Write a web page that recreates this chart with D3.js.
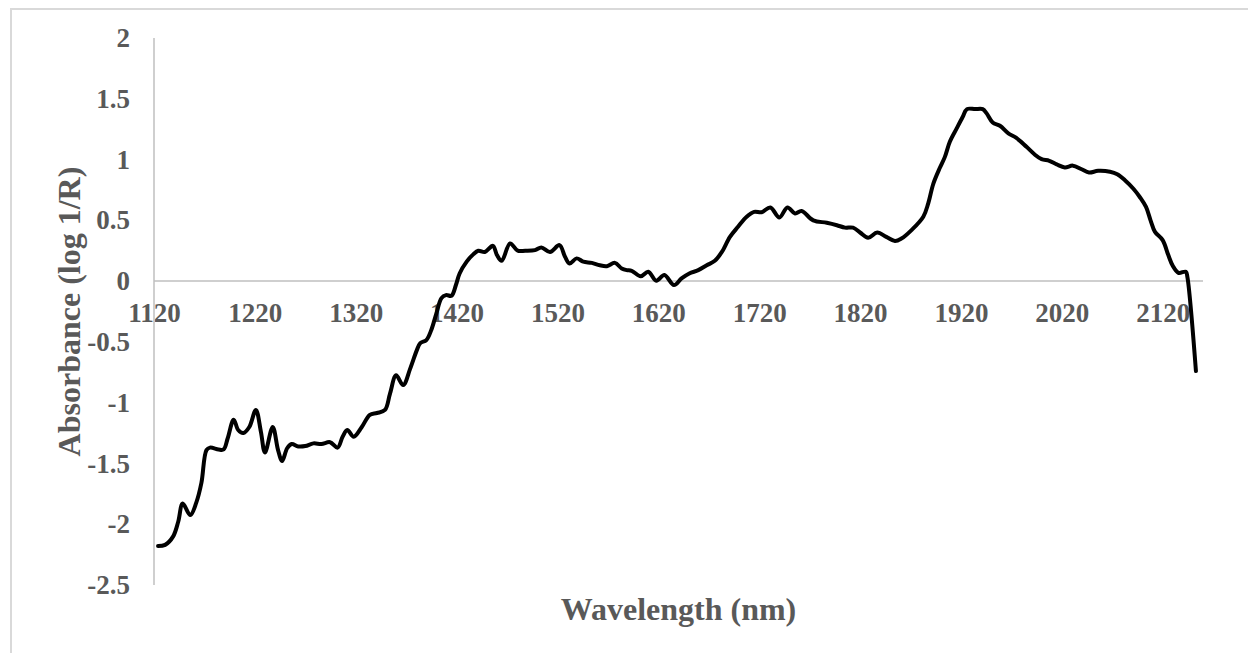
<!DOCTYPE html>
<html>
<head>
<meta charset="utf-8">
<script src="https://cdn.jsdelivr.net/npm/d3@7"></script>
<style>
  html, body { margin: 0; padding: 0; background: #ffffff; }
  svg { display: block; }
</style>
</head>
<body>
<svg id="chart" width="1248" height="653"></svg>
<script>
// ---- data ----
const wavelength = [1124,1131,1139,1144,1148.5,1156,1162,1167,1172,1175.5,1184,1189,1193,1199,1203.5,1208.5,1214.5,1221,1226,1230,1237.7,1243,1247,1252,1256.5,1263,1270,1278,1286,1294.5,1302,1307,1311.6,1318,1326,1334,1341,1349,1354,1360,1367,1374,1380.5,1384,1390,1395,1400,1405,1409.5,1415,1419.4,1423,1430,1436.5,1441.5,1448,1456,1460,1464.7,1473,1480.6,1488,1497.7,1504,1512.6,1522,1527.5,1532,1539,1545.6,1554,1562,1569,1577,1583.7,1588.6,1593.6,1602.5,1610,1618,1626,1635.5,1643,1650.7,1659.6,1668,1676,1683,1691,1699,1707.6,1715,1722.5,1731,1740,1748,1755.5,1762,1773.6,1787,1797,1805,1813,1820,1828,1837,1846,1854.6,1861,1871,1882.7,1887.6,1892.6,1899,1904,1909,1915.8,1921.7,1926,1934,1941.6,1945.5,1951.5,1958.7,1967,1974.6,1985,1993.4,2000,2007.6,2015,2023,2031,2039.7,2047,2056,2067.8,2075,2082.6,2091,2097.5,2103.5,2108,2112.4,2120,2125.6,2130,2135.6,2143,2144.5,2153];
const absorbance = [-2.18,-2.17,-2.10,-1.98,-1.83,-1.925,-1.82,-1.66,-1.39,-1.37,-1.385,-1.385,-1.295,-1.14,-1.225,-1.25,-1.20,-1.06,-1.24,-1.41,-1.20,-1.39,-1.48,-1.375,-1.34,-1.36,-1.357,-1.335,-1.34,-1.325,-1.37,-1.28,-1.225,-1.28,-1.20,-1.10,-1.085,-1.06,-0.925,-0.775,-0.855,-0.72,-0.57,-0.51,-0.485,-0.40,-0.265,-0.14,-0.115,-0.12,-0.03,0.063,0.16,0.22,0.25,0.24,0.29,0.215,0.167,0.31,0.25,0.25,0.255,0.277,0.24,0.296,0.20,0.145,0.187,0.16,0.15,0.13,0.123,0.15,0.104,0.09,0.085,0.04,0.077,0.003,0.05,-0.033,0.022,0.063,0.09,0.13,0.167,0.24,0.364,0.447,0.53,0.57,0.567,0.606,0.524,0.606,0.557,0.576,0.50,0.48,0.46,0.44,0.44,0.40,0.357,0.40,0.364,0.33,0.35,0.42,0.53,0.64,0.80,0.93,1.02,1.146,1.256,1.35,1.415,1.415,1.415,1.38,1.305,1.278,1.215,1.18,1.105,1.04,1.003,0.99,0.96,0.935,0.95,0.92,0.894,0.907,0.90,0.88,0.83,0.76,0.69,0.61,0.50,0.405,0.337,0.214,0.126,0.068,0.077,0.035,-0.74];
const xTicks = [1120,1220,1320,1420,1520,1620,1720,1820,1920,2020,2120];
const yTicks = [2,1.5,1,0.5,0,-0.5,-1,-1.5,-2,-2.5];
const xTitle = "Wavelength (nm)";
const yTitle = "Absorbance (log 1/R)";

// ---- layout ----
const svg = d3.select("#chart");
const mLeft = 154, mRight = 1203, mTop = 38, mBottom = 585;
const FONT = "'Liberation Serif', 'Times New Roman', serif";
const GRAY = "#595959";

const x = d3.scaleLinear().domain([1120, 2160]).range([mLeft, mRight]);
const y = d3.scaleLinear().domain([-2.5, 2]).range([mBottom, mTop]);

// outer border
svg.append("rect")
  .attr("x", 11).attr("y", 9)
  .attr("width", 1300).attr("height", 700)
  .attr("fill", "none").attr("stroke", "#d9d9d9").attr("stroke-width", 2);

// x axis labels (no ticks)
const xAxis = svg.append("g")
  .attr("transform", `translate(0,${y(0)})`)
  .call(d3.axisBottom(x).tickValues(xTicks).tickSize(0).tickPadding(22).tickFormat(d3.format("d")));
xAxis.select(".domain").remove();
xAxis.selectAll("text")
  .attr("fill", GRAY).style("font-family", FONT).style("font-size", "27px").style("font-weight", "bold");

// y axis labels
const yAxis = svg.append("g")
  .attr("transform", `translate(${mLeft},0)`)
  .call(d3.axisLeft(y).tickValues(yTicks).tickSize(0).tickPadding(24).tickFormat(d => String(d)));
yAxis.select(".domain").remove();
yAxis.selectAll("text")
  .attr("fill", GRAY).style("font-family", FONT).style("font-size", "27px").style("font-weight", "bold");

// axis lines
svg.append("line")
  .attr("x1", mLeft).attr("x2", mLeft).attr("y1", mTop).attr("y2", mBottom)
  .attr("stroke", "#bfbfbf").attr("stroke-width", 1.5);
svg.append("line")
  .attr("x1", mLeft).attr("x2", mRight).attr("y1", y(0)).attr("y2", y(0))
  .attr("stroke", "#bfbfbf").attr("stroke-width", 1.5);

// line
const data = wavelength.map((w, i) => [w, absorbance[i]]);
svg.append("path")
  .datum(data)
  .attr("fill", "none")
  .attr("stroke", "#000")
  .attr("stroke-width", 4)
  .attr("stroke-linejoin", "round")
  .attr("stroke-linecap", "round")
  .attr("d", d3.line().x(d => x(d[0])).y(d => y(d[1])).curve(d3.curveCatmullRom.alpha(0.5)));

// titles
svg.append("text")
  .attr("x", (mLeft + mRight) / 2).attr("y", 620)
  .attr("text-anchor", "middle")
  .attr("fill", GRAY).style("font-family", FONT).style("font-size", "32px").style("font-weight", "bold")
  .text(xTitle);
svg.append("text")
  .attr("transform", `translate(80,${(mTop + mBottom) / 2}) rotate(-90)`)
  .attr("text-anchor", "middle")
  .attr("fill", GRAY).style("font-family", FONT).style("font-size", "32px").style("font-weight", "bold")
  .text(yTitle);
</script>
</body>
</html>
